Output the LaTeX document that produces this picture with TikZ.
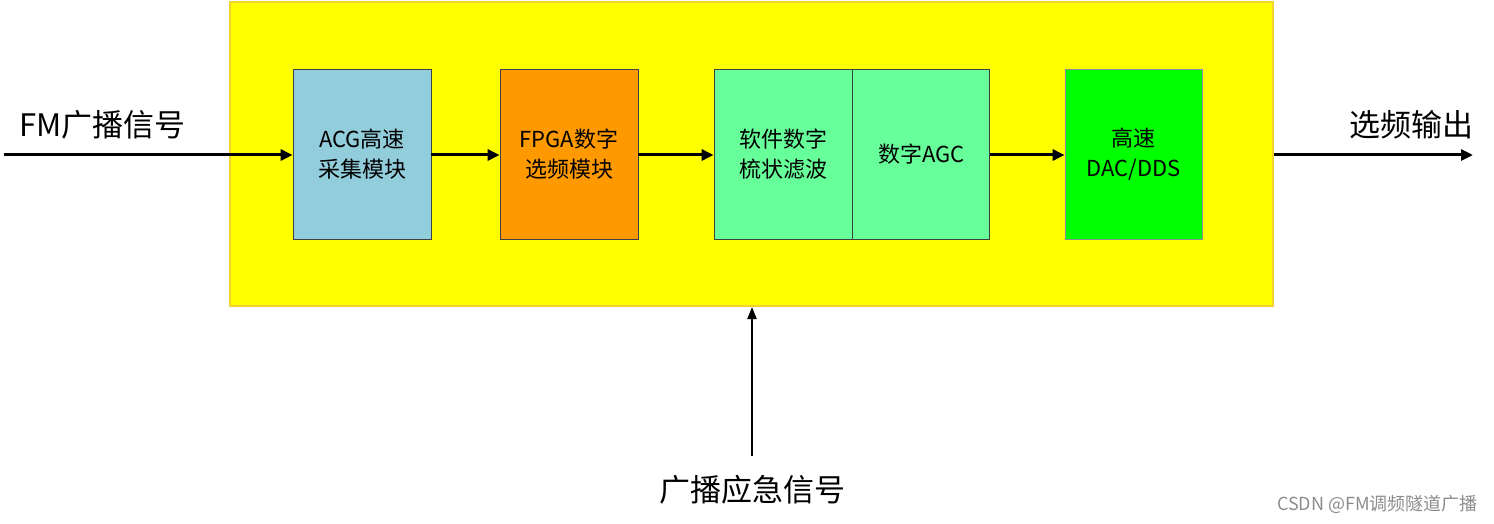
\documentclass[tikz,border=0pt]{standalone}
\usepackage{fontspec}
\setmainfont{Noto Sans CJK SC}
\usetikzlibrary{arrows.meta}
\definecolor{bgyellow}{HTML}{FFFF00}
\definecolor{bgedge}{HTML}{F2D22E}
\definecolor{acgfill}{HTML}{92CDDC}
\definecolor{fpgafill}{HTML}{FF9900}
\definecolor{softfill}{HTML}{66FF99}
\definecolor{dacfill}{HTML}{00FF00}
\begin{document}
\begin{tikzpicture}[x=1pt,y=-1pt,
  blk/.style={draw=black!75, line width=0.8pt, minimum width=138pt, minimum height=170pt,
    inner sep=0pt, align=center, font=\fontsize{22}{30}\selectfont},
  arr/.style={line width=3pt, -{Triangle[length=12pt,width=11pt]}},
  varr/.style={line width=2.2pt, -{Triangle[length=12pt,width=9pt]}},
  lbl/.style={inner sep=0pt, font=\fontsize{31}{36}\selectfont}]
\useasboundingbox (0,0) rectangle (1494,524);
\node[fill=bgyellow, draw=bgedge, line width=2pt, minimum width=1043pt, minimum height=304pt, inner sep=0pt] (frame) at (751.5,154) {};
\node[blk, fill=acgfill] (acg) at (362,154) {ACG高速\\采集模块};
\node[blk, fill=fpgafill] (fpga) at (569,154) {FPGA数字\\选频模块};
\node[blk, fill=softfill, minimum width=138pt] (soft) at (783,154) {软件数字\\梳状滤波};
\node[blk, fill=softfill, minimum width=137pt, anchor=west] (agc) at (soft.east) {数字AGC};
\node[blk, fill=dacfill, draw=black!45, minimum width=137pt] (dac) at (1133.5,154) {高速\\DAC/DDS};
\coordinate (in) at (4,155);
\coordinate (out) at (1473,155);
\coordinate (em) at (752,456);
\draw[arr] (in) -- (in -| acg.west);
\draw[arr] (acg.east |- in) -- (fpga.west |- in);
\draw[arr] (fpga.east |- in) -- (soft.west |- in);
\draw[arr] (agc.east |- in) -- (dac.west |- in);
\draw[arr] (frame.east |- out) -- (out);
\draw[varr] (em) -- (em |- frame.south);
\node[lbl, anchor=west] (fmlbl) at (19,125) {FM广播信号};
\node[lbl, anchor=east] (outlbl) at (1474,125) {选频输出};
\node[lbl] (emlbl) at (752,490) {广播应急信号};
\node[inner sep=0pt, anchor=east, text=black!45, font=\fontsize{18}{20}\selectfont] (wm) at (1478,504) {CSDN @FM调频隧道广播};
\end{tikzpicture}
\end{document}
